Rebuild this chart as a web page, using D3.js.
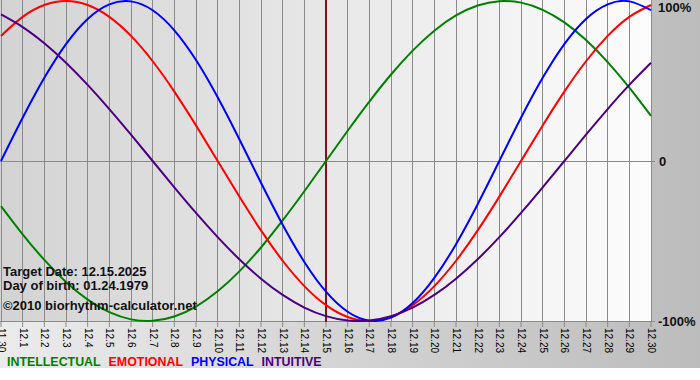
<!DOCTYPE html>
<html>
<head>
<meta charset="utf-8">
<script src="https://cdn.jsdelivr.net/npm/d3@7"></script>
<style>
  html, body { margin: 0; padding: 0; background: #ffffff; }
  svg { display: block; }
</style>
</head>
<body>
<svg id="chart" width="700" height="380"></svg>
<script>
const days = ["11.30","12.1","12.2","12.3","12.4","12.5","12.6","12.7","12.8","12.9","12.10",
  "12.11","12.12","12.13","12.14","12.15","12.16","12.17","12.18","12.19","12.20",
  "12.21","12.22","12.23","12.24","12.25","12.26","12.27","12.28","12.29","12.30"];

const intellectual = [-0.2817,-0.4582,-0.6182,-0.7557,-0.8660,-0.9450,-0.9898,-0.9989,-0.9718,-0.9096,
  -0.8146,-0.6901,-0.5406,-0.3717,-0.1893,0,0.1893,0.3717,0.5406,0.6901,
  0.8146,0.9096,0.9718,0.9989,0.9898,0.9450,0.8660,0.7557,0.6182,0.4582,0.2817];

const emotional = [0.7818,0.9010,0.9749,1,0.9749,0.9010,0.7818,0.6235,0.4339,0.2225,
  0,-0.2225,-0.4339,-0.6235,-0.7818,-0.9010,-0.9749,-1,-0.9749,-0.9010,
  -0.7818,-0.6235,-0.4339,-0.2225,0,0.2225,0.4339,0.6235,0.7818,0.9010,0.9749];

const physical = [0,0.2698,0.5196,0.7308,0.8879,0.9791,0.9977,0.9423,0.8170,0.6311,
  0.3984,0.1362,-0.1362,-0.3984,-0.6311,-0.8170,-0.9423,-0.9977,-0.9791,-0.8879,
  -0.7308,-0.5196,-0.2698,0,0.2698,0.5196,0.7308,0.8879,0.9791,0.9977,0.9423];

const intuitive = [0.9158,0.8372,0.7357,0.6142,0.4759,0.3247,0.1646,0,-0.1646,-0.3247,
  -0.4759,-0.6142,-0.7357,-0.8372,-0.9158,-0.9694,-0.9966,-0.9966,-0.9694,-0.9158,
  -0.8372,-0.7357,-0.6142,-0.4759,-0.3247,-0.1646,0,0.1646,0.3247,0.4759,0.6142];

const seriesNames = ["INTELLECTUAL","EMOTIONAL","PHYSICAL","INTUITIVE"];
const seriesColors = ["#008000","#ff0000","#0000ff","#4b0082"];
const yTickValues = [1, 0, -1];
const yTickLabels = ["100%", "0", "-100%"];
const targetDay = "12.15";
const infoLines = ["Target Date: 12.15.2025", "Day of birth: 01.24.1979", "\u00a92010 biorhythm-calculator.net"];

const svg = d3.select("#chart");
const W = 700, H = 380;
const plot = {left: 1, right: 651, top: 1, bottom: 321};

const defs = svg.append("defs");
const gOuter = defs.append("linearGradient").attr("id","outerGrad").attr("x1","0%").attr("x2","100%");
gOuter.append("stop").attr("offset","0%").attr("stop-color","#ebebeb");
gOuter.append("stop").attr("offset","100%").attr("stop-color","#bcbcbc");
const gPlot = defs.append("linearGradient").attr("id","plotGrad").attr("x1","0%").attr("x2","100%");
gPlot.append("stop").attr("offset","0%").attr("stop-color","#d3d3d3");
gPlot.append("stop").attr("offset","100%").attr("stop-color","#fcfcfc");
defs.append("clipPath").attr("id","plotClip").append("rect")
  .attr("x", 0).attr("y", 0).attr("width", plot.right + 1).attr("height", plot.bottom + 1);

// backgrounds
svg.append("rect").attr("x",0).attr("y",0).attr("width",W).attr("height",368).attr("fill","url(#outerGrad)");
svg.append("rect").attr("x",0).attr("y",368).attr("width",W).attr("height",H-368).attr("fill","#ffffff");
svg.append("rect").attr("x",0).attr("y",0).attr("width",plot.right).attr("height",plot.bottom + 1).attr("fill","url(#plotGrad)");

const x = d3.scalePoint().domain(days).range([plot.left, plot.right]);
const y = d3.scaleLinear().domain([-1, 1]).range([plot.bottom, plot.top]);
const px = v => Math.round(v) + 0.5;

// vertical grid
svg.append("g").selectAll("line").data(days).join("line")
  .attr("x1", d => px(x(d) - 0.5)).attr("x2", d => px(x(d) - 0.5))
  .attr("y1", 0).attr("y2", plot.bottom + 1)
  .attr("stroke", "#8a8a8a").attr("stroke-width", 1);

// zero line + bottom line
svg.append("line").attr("x1",0).attr("x2",plot.right + 4)
  .attr("y1", px(y(0) - 0.5)).attr("y2", px(y(0) - 0.5)).attr("stroke","#8a8a8a");
svg.append("line").attr("x1",0).attr("x2",plot.right + 4)
  .attr("y1", px(y(-1))).attr("y2", px(y(-1))).attr("stroke","#8a8a8a");

// x axis
const xAxis = d3.axisBottom(x).tickSize(5).tickSizeOuter(0);
const gx = svg.append("g").attr("transform", `translate(0,${plot.bottom + 1})`).call(xAxis);
gx.select(".domain").remove();
gx.selectAll(".tick line").attr("stroke", "#8a8a8a").attr("transform","translate(-0.5,0)");
gx.selectAll(".tick text")
  .attr("transform", "rotate(90)")
  .attr("text-anchor", "start")
  .attr("x", 6).attr("y", 0).attr("dy", "0.35em")
  .attr("fill", "#000")
  .style("font-family", "'Liberation Sans', Arial, sans-serif")
  .style("font-size", "10px");

// target date line
svg.append("line")
  .attr("x1", x(targetDay)).attr("x2", x(targetDay))
  .attr("y1", 0).attr("y2", plot.bottom + 1)
  .attr("stroke", "#7d1515").attr("stroke-width", 2);

// curves
const allSeries = [intellectual, emotional, physical, intuitive];
const line = d3.line().x((d, i) => x(days[i])).y(d => y(d)).curve(d3.curveNatural);
const gLines = svg.append("g").attr("clip-path", "url(#plotClip)");
allSeries.forEach((s, i) => {
  gLines.append("path").datum(s)
    .attr("d", line)
    .attr("fill", "none")
    .attr("stroke", seriesColors[i])
    .attr("stroke-width", 2);
});

// right labels
const gy = svg.append("g");
yTickValues.forEach((v, i) => {
  let yy = y(v);
  if (v === 1) yy += 6.5;
  gy.append("text")
    .attr("x", v === 0 ? 659 : 658).attr("y", yy).attr("dy", "0.36em")
    .attr("fill", "#111")
    .style("font-family", "'Liberation Sans', Arial, sans-serif")
    .style("font-weight", "bold").style("font-size", "13px")
    .text(yTickLabels[i]);
});

// info text
const infoY = [276, 290, 310];
infoLines.forEach((t, i) => {
  svg.append("text").attr("x", 3).attr("y", infoY[i])
    .attr("fill", "#111")
    .style("font-family", "'Liberation Sans', Arial, sans-serif")
    .style("font-weight", "bold").style("font-size", "13px")
    .text(t);
});

// legend
let lx = 7;
seriesNames.forEach((n, i) => {
  const t = svg.append("text").attr("x", lx).attr("y", 366)
    .attr("fill", seriesColors[i])
    .style("font-family", "'Liberation Sans', Arial, sans-serif")
    .style("font-weight", "bold").style("font-size", "12.4px")
    .text(n);
  lx += t.node().getComputedTextLength() + 8;
});
</script>
</body>
</html>
